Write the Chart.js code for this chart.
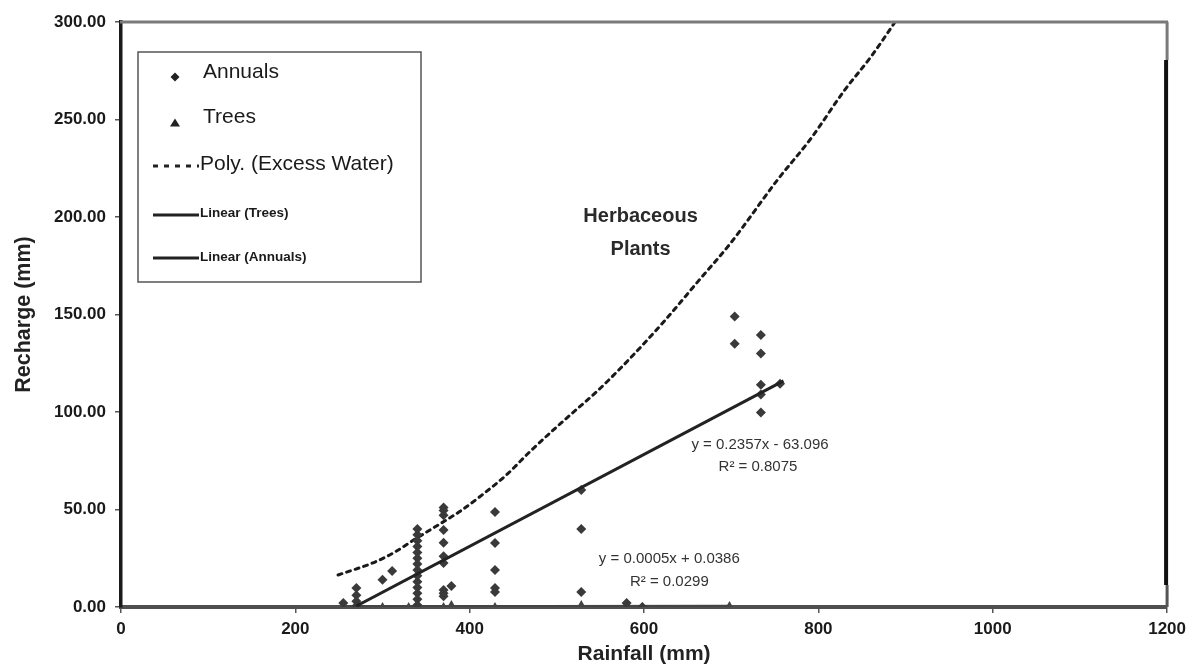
<!DOCTYPE html>
<html>
<head>
<meta charset="utf-8">
<script src="https://cdn.jsdelivr.net/npm/chart.js@4.4.1/dist/chart.umd.min.js"></script>
<style>
html,body{margin:0;padding:0;background:#fff;}
#wrap{width:1192px;height:669px;position:relative;}
</style>
</head>
<body>
<div id="wrap"><canvas id="c" width="1192" height="669"></canvas></div>
<script>
// ---- data ----
const xTicks = [0, 200, 400, 600, 800, 1000, 1200];
const yTicks = [0, 50, 100, 150, 200, 250, 300];

const annualsX = [255, 270, 270, 270, 270, 300, 311,
  340, 340, 340, 340, 340, 340, 340, 340, 340, 340, 340, 340, 340, 340,
  370, 370, 370, 370, 370, 370, 370, 370, 370, 370, 379,
  429, 429, 429, 429, 429,
  528, 528, 528, 580, 598,
  704, 704, 734, 734, 734, 734, 734, 756];
const annualsY = [2, 9.7, 6, 3, 0.5, 14, 18.5,
  40, 37, 34, 31, 28, 25, 22, 19, 16, 13, 10, 7, 4, 1,
  51, 49.5, 47, 39.5, 33, 26, 22.6, 8.7, 7, 5.5, 10.8,
  48.7, 32.8, 19, 9.7, 7.7,
  60, 40, 7.7, 2, 0,
  149, 135, 139.5, 130, 114, 109, 99.7, 114.5];

const treesX = [255, 270, 300, 330, 340, 370, 379, 429, 528, 580, 598, 698];
const treesY = [0, 0.5, 0, 0, 0.5, 0, 1, 0, 1, 1.5, 0, 0.5];

// Poly. (Excess Water) trend curve
const polyX = [249, 292, 315, 337, 368, 391, 414, 442, 471, 509, 547, 585, 624, 662, 700, 753, 791, 830, 860, 888];
const polyY = [16.4, 23.2, 28.4, 34.7, 43.2, 49.7, 57.4, 67.7, 80.5, 96, 111, 128, 147, 167, 187, 219, 240, 265, 282, 300];

// Linear trend lines (end points)
const linTreesX = [255, 700];
const linTreesY = [0.1, 0.4];
const linAnnualsX = [270, 760];
const linAnnualsY = [0.5, 116];

const legendLabels = ['Annuals', 'Trees', 'Poly. (Excess Water)', 'Linear (Trees)', 'Linear (Annuals)'];
const eqAnnuals = ['y = 0.2357x - 63.096', 'R\u00B2 = 0.8075'];
const eqTrees = ['y = 0.0005x + 0.0386', 'R\u00B2 = 0.0299'];
const regionLabel = ['Herbaceous', 'Plants'];

const pts = (xs, ys) => xs.map((x, i) => ({x: x, y: ys[i]}));

const FONT = '"Liberation Sans", Arial, Helvetica, sans-serif';

const framePlugin = {
  id: 'frame',
  afterDraw(chart) {
    const ctx = chart.ctx, a = chart.chartArea;
    ctx.save();
    ctx.strokeStyle = '#7a7a7a';
    ctx.lineWidth = 3;
    ctx.beginPath();
    ctx.moveTo(a.left - 1, a.top);
    ctx.lineTo(a.right + 1, a.top);
    ctx.stroke();
    ctx.beginPath();
    ctx.moveTo(a.right, a.top);
    ctx.lineTo(a.right, a.top + 38);
    ctx.stroke();
    ctx.strokeStyle = '#111';
    ctx.lineWidth = 4;
    ctx.beginPath();
    ctx.moveTo(a.right - 1, a.top + 38);
    ctx.lineTo(a.right - 1, a.bottom - 22);
    ctx.stroke();
    ctx.strokeStyle = '#555';
    ctx.lineWidth = 3;
    ctx.beginPath();
    ctx.moveTo(a.right, a.bottom - 22);
    ctx.lineTo(a.right, a.bottom);
    ctx.stroke();
    ctx.restore();
  }
};

const notesPlugin = {
  id: 'notes',
  afterDatasetsDraw(chart) {
    const ctx = chart.ctx;
    const xs = chart.scales.x, ys = chart.scales.y;
    const P = (x, y) => [xs.getPixelForValue(x), ys.getPixelForValue(y)];
    ctx.save();
    ctx.textAlign = 'center';
    ctx.textBaseline = 'middle';
    ctx.fillStyle = '#2a2a2a';
    ctx.font = 'bold 20px ' + FONT;
    let p = P(596, 200);
    ctx.fillText(regionLabel[0], p[0], p[1] - 1);
    ctx.fillText(regionLabel[1], p[0], p[1] + 32);
    ctx.fillStyle = '#333';
    ctx.font = '15px ' + FONT;
    p = P(733, 83);
    ctx.fillText(eqAnnuals[0], p[0], p[1]);
    ctx.fillText(eqAnnuals[1], p[0] - 2, p[1] + 22);
    p = P(629, 24.5);
    ctx.fillText(eqTrees[0], p[0], p[1]);
    ctx.fillText(eqTrees[1], p[0], p[1] + 23);

    // legend box
    const L = 138, T = 52, R = 421, B = 282;
    ctx.fillStyle = '#fff';
    ctx.fillRect(L, T, R - L, B - T);
    ctx.strokeStyle = '#555';
    ctx.lineWidth = 1.5;
    ctx.strokeRect(L, T, R - L, B - T);
    ctx.textAlign = 'left';
    ctx.fillStyle = '#222';
    ctx.beginPath();
    ctx.moveTo(175, 72.5); ctx.lineTo(179.5, 77); ctx.lineTo(175, 81.5); ctx.lineTo(170.5, 77); ctx.closePath();
    ctx.fill();
    ctx.beginPath();
    ctx.moveTo(175, 118.5); ctx.lineTo(180, 126.5); ctx.lineTo(170, 126.5); ctx.closePath();
    ctx.fill();
    ctx.font = '21px ' + FONT;
    ctx.fillStyle = '#1a1a1a';
    ctx.fillText(legendLabels[0], 203, 72);
    ctx.fillText(legendLabels[1], 203, 117);
    ctx.fillText(legendLabels[2], 200, 164);
    ctx.strokeStyle = '#222';
    ctx.lineWidth = 3;
    ctx.setLineDash([5, 6]);
    ctx.beginPath(); ctx.moveTo(153, 166); ctx.lineTo(199, 166); ctx.stroke();
    ctx.setLineDash([]);
    ctx.beginPath(); ctx.moveTo(153, 215); ctx.lineTo(199, 215); ctx.stroke();
    ctx.beginPath(); ctx.moveTo(153, 258); ctx.lineTo(199, 258); ctx.stroke();
    ctx.font = 'bold 13.5px ' + FONT;
    ctx.fillText(legendLabels[3], 200, 213);
    ctx.fillText(legendLabels[4], 200, 257);
    ctx.restore();
  }
};

new Chart(document.getElementById('c'), {
  type: 'scatter',
  data: {
    datasets: [
      {
        label: legendLabels[0],
        data: pts(annualsX, annualsY),
        pointStyle: 'rectRot',
        pointRadius: 5,
        backgroundColor: '#3a3a3a',
        borderColor: '#3a3a3a',
        borderWidth: 0,
        order: 1
      },
      {
        label: legendLabels[1],
        data: pts(treesX, treesY),
        pointStyle: 'triangle',
        pointRadius: 5,
        backgroundColor: '#444',
        borderColor: '#444',
        borderWidth: 0,
        order: 2
      },
      {
        label: legendLabels[2],
        data: pts(polyX, polyY),
        showLine: true,
        pointRadius: 0,
        borderColor: '#1a1a1a',
        borderWidth: 3,
        borderDash: [4, 5],
        borderCapStyle: 'round',
        cubicInterpolationMode: 'monotone',
        fill: false,
        order: 3
      },
      {
        label: legendLabels[3],
        data: pts(linTreesX, linTreesY),
        showLine: true,
        pointRadius: 0,
        borderColor: '#444',
        borderWidth: 3,
        fill: false,
        order: 4
      },
      {
        label: legendLabels[4],
        data: pts(linAnnualsX, linAnnualsY),
        showLine: true,
        pointRadius: 0,
        borderColor: '#222',
        borderWidth: 3,
        fill: false,
        order: 0
      }
    ]
  },
  options: {
    responsive: false,
    animation: false,
    devicePixelRatio: 1,
    layout: {padding: {top: 22, right: 23, left: 0, bottom: 0}},
    plugins: {
      legend: {display: false},
      tooltip: {enabled: false},
      title: {display: false}
    },
    scales: {
      x: {
        type: 'linear',
        min: 0, max: 1200,
        afterBuildTicks: s => { s.ticks = xTicks.map(v => ({value: v})); },
        afterFit: s => { s.height = 62; },
        ticks: {
          color: '#1a1a1a',
          font: {family: FONT, size: 17, weight: 'bold'},
          padding: 6,
          maxRotation: 0,
          callback: v => String(v)
        },
        grid: {drawOnChartArea: false, drawTicks: true, tickLength: 6, color: '#555', lineWidth: 1.5},
        border: {display: true, color: '#505050', width: 4},
        title: {
          display: true,
          text: 'Rainfall (mm)',
          color: '#222',
          font: {family: FONT, size: 21, weight: 'bold'},
          padding: {top: 0, bottom: 2}
        }
      },
      y: {
        type: 'linear',
        min: 0, max: 300,
        afterBuildTicks: s => { s.ticks = yTicks.map(v => ({value: v})); },
        afterFit: s => { s.width = 121; },
        ticks: {
          color: '#1a1a1a',
          font: {family: FONT, size: 17, weight: 'bold'},
          padding: 9,
          callback: v => Number(v).toFixed(2)
        },
        grid: {drawOnChartArea: false, drawTicks: true, tickLength: 6, color: '#555', lineWidth: 1.5},
        border: {display: true, color: '#1a1a1a', width: 3.5},
        title: {
          display: true,
          text: 'Recharge (mm)',
          color: '#222',
          font: {family: FONT, size: 21.5, weight: 'bold'},
          padding: {top: 11, bottom: 0}
        }
      }
    }
  },
  plugins: [framePlugin, notesPlugin]
});
</script>
</body>
</html>
